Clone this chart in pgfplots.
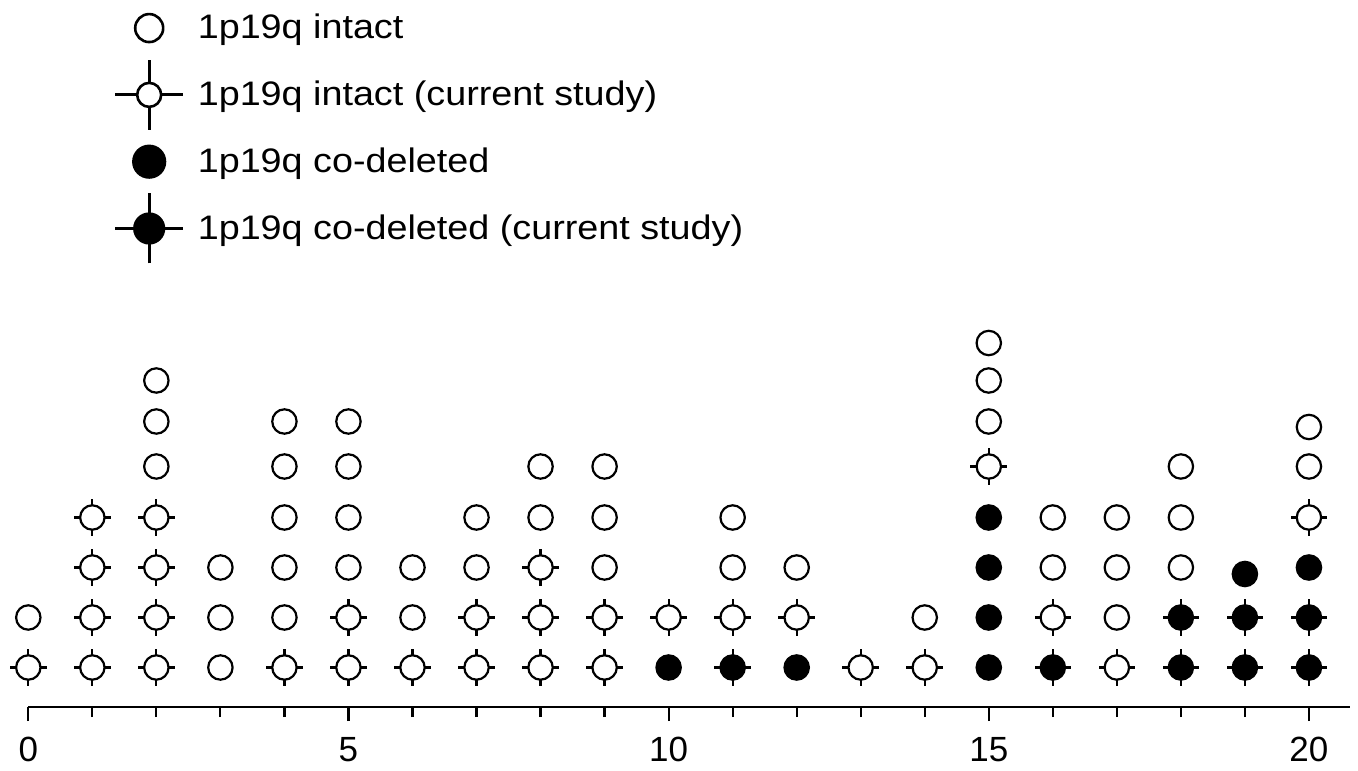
\documentclass[border=0pt]{standalone}
\usepackage{fontspec}
\setmainfont{Liberation Sans}
\newfontfamily\legfont[FakeStretch=1.11]{Liberation Sans}
\usepackage{pgfplots}
\pgfplotsset{compat=1.18}

% circle with four short spikes (current study)
\pgfdeclareplotmark{spikecircle}{%
  \pgfpathmoveto{\pgfpoint{\pgfplotmarksize}{0pt}}\pgfpathlineto{\pgfpoint{1.5\pgfplotmarksize}{0pt}}%
  \pgfpathmoveto{\pgfpoint{-\pgfplotmarksize}{0pt}}\pgfpathlineto{\pgfpoint{-1.5\pgfplotmarksize}{0pt}}%
  \pgfpathmoveto{\pgfpoint{0pt}{\pgfplotmarksize}}\pgfpathlineto{\pgfpoint{0pt}{1.5\pgfplotmarksize}}%
  \pgfpathmoveto{\pgfpoint{0pt}{-\pgfplotmarksize}}\pgfpathlineto{\pgfpoint{0pt}{-1.5\pgfplotmarksize}}%
  \pgfusepathqstroke
  \pgfpathcircle{\pgfpointorigin}{\pgfplotmarksize}%
  \pgfusepathqfillstroke
}

\begin{document}
\begin{tikzpicture}
\path[use as bounding box] (-14.15pt,-31.5pt) rectangle (664.85pt,353.5pt);
\begin{axis}[
  at={(0pt,0pt)}, anchor=south west,
  scale only axis, width=660.8pt, height=353.5pt,
  xmin=0, xmax=20.64, ymin=0, ymax=14.14,
  clip=false,
  axis x line=bottom, axis y line=none,
  axis line style={line width=1.4pt, -},
  xtick={0,5,...,20}, minor xtick={0,1,...,20},
  tick align=outside, major tick length=7pt, minor tick length=5pt,
  every tick/.style={line width=1.1pt, black},
  /pgf/number format/assume math mode=true,
  xticklabel style={font=\fontsize{17.5}{19}\selectfont, inner sep=0pt, yshift=-8pt},
  mark size=6.1pt,
  legend style={draw=none, fill=none, at={(axis description cs:0.0597,1.016)}, anchor=north west,
    font=\legfont\fontsize{17}{20}\selectfont, row sep=-2.4pt,
    nodes={inner sep=0pt}, /tikz/column sep=6.5pt},
  legend cell align=left,
]
\addplot[only marks, black, line width=1.1pt, mark=*, mark options={fill=white, draw=black},
  legend image code/.code={\path[draw=none, fill=none] (-17pt,-17.5pt) rectangle (17pt,17.5pt);
    \draw[black, line width=1.3pt, fill=white] (0pt,0pt) circle (7pt);}]
coordinates {
(0,1.79)
(2,4.81) (2,5.71) (2,6.53)
(3,0.79) (3,1.79) (3,2.79)
(4,1.79) (4,2.79) (4,3.79) (4,4.81) (4,5.71)
(5,2.79) (5,3.79) (5,4.81) (5,5.71)
(6,1.79) (6,2.79)
(7,2.79) (7,3.79)
(8,3.79) (8,4.81)
(9,2.79) (9,3.79) (9,4.81)
(11,2.79) (11,3.79)
(12,2.79)
(14,1.79)
(15,5.71) (15,6.53) (15,7.28)
(16,2.79) (16,3.79)
(17,1.79) (17,2.79) (17,3.79)
(18,2.79) (18,3.79) (18,4.81)
(20,4.81) (20,5.60)
};
\addlegendentry{1p19q intact}
\addplot[only marks, black, line width=1.1pt, mark=spikecircle, mark options={fill=white, draw=black},
  legend image code/.code={\path[draw=none, fill=none] (-17pt,-17.5pt) rectangle (17pt,17.5pt);
    \draw[black, line width=1.6pt] (-17pt,0pt) -- (17pt,0pt) (0pt,-17.5pt) -- (0pt,17.5pt);
    \draw[black, line width=1.3pt, fill=white] (0pt,0pt) circle (6pt);}]
coordinates {
(0,0.79)
(1,0.79) (1,1.79) (1,2.79) (1,3.79)
(2,0.79) (2,1.79) (2,2.79) (2,3.79)
(4,0.79)
(5,0.79) (5,1.79)
(6,0.79)
(7,0.79) (7,1.79)
(8,0.79) (8,1.79) (8,2.79)
(9,0.79) (9,1.79)
(10,1.79)
(11,1.79)
(12,1.79)
(13,0.79)
(14,0.79)
(15,4.81)
(16,1.79)
(17,0.79)
(20,3.79)
};
\addlegendentry{1p19q intact (current study)}
\addplot[only marks, black, line width=1.1pt, mark=*, mark options={fill=black, draw=black},
  legend image code/.code={\path[draw=none, fill=none] (-17pt,-17.5pt) rectangle (17pt,17.5pt);
    \fill[black] (0pt,0pt) circle (8pt);}]
coordinates {
(10,0.79)
(12,0.79)
(15,0.79) (15,1.79) (15,2.79) (15,3.79)
(19,2.66)
(20,2.79)
};
\addlegendentry{1p19q co-deleted}
\addplot[only marks, black, line width=1.1pt, mark=spikecircle, mark options={fill=black, draw=black},
  legend image code/.code={\path[draw=none, fill=none] (-17pt,-17.5pt) rectangle (17pt,17.5pt);
    \draw[black, line width=1.6pt] (-17pt,0pt) -- (17pt,0pt) (0pt,-17.5pt) -- (0pt,17.5pt);
    \fill[black] (0pt,0pt) circle (7.5pt);}]
coordinates {
(11,0.79)
(16,0.79)
(18,0.79) (18,1.79)
(19,0.79) (19,1.79)
(20,0.79) (20,1.79)
};
\addlegendentry{1p19q co-deleted (current study)}
\end{axis}
\end{tikzpicture}
\end{document}
